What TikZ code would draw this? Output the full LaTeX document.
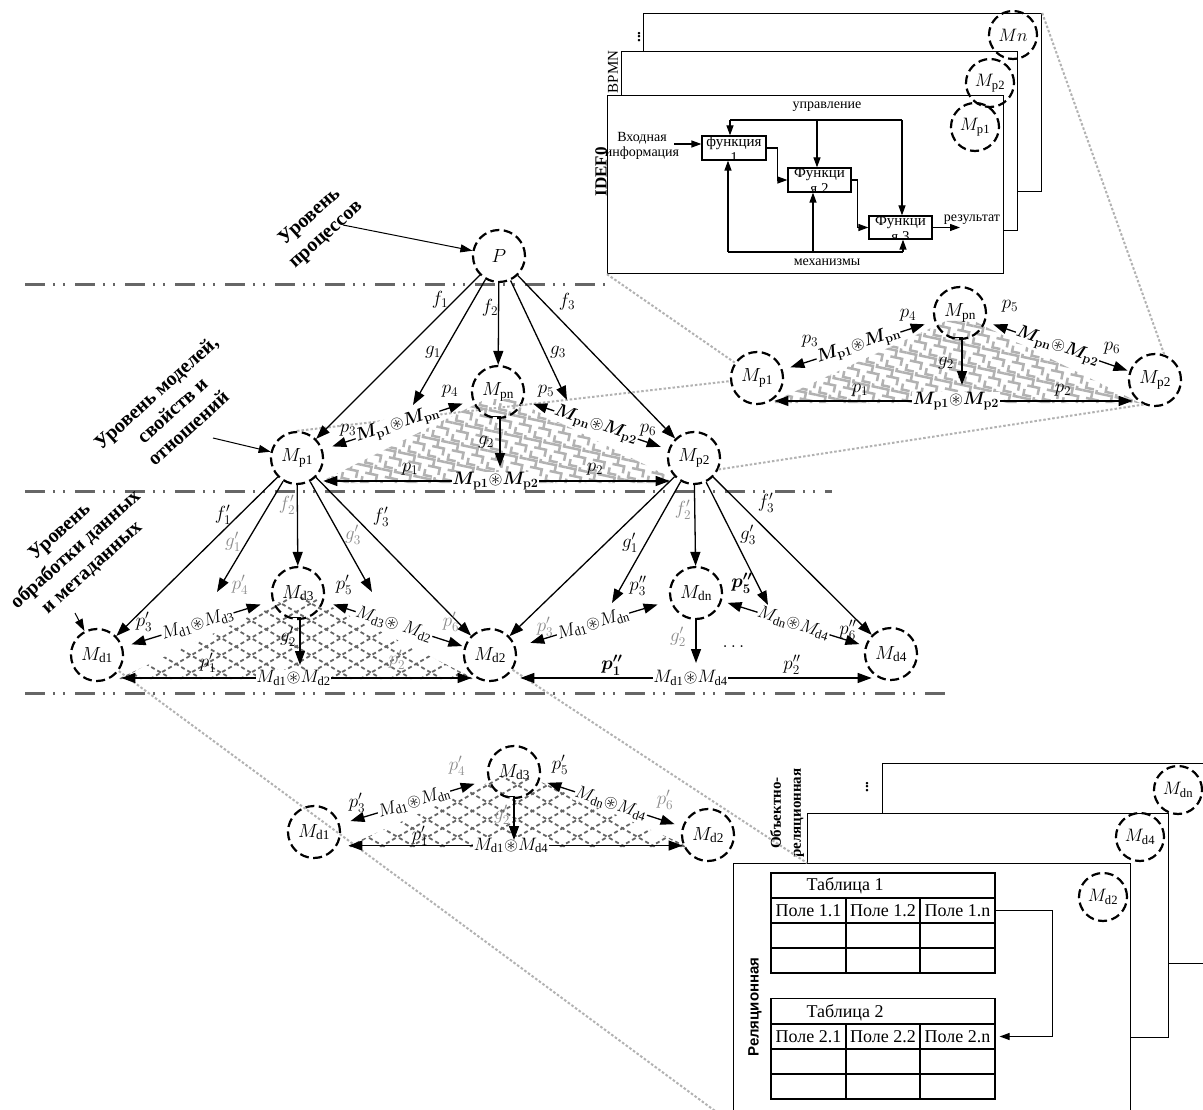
\RequirePackage{fix-cm}
\documentclass[tikz,border=0pt]{standalone}
\usepackage{amsmath,amssymb}
\usepackage{fontspec}
\setmainfont{Liberation Serif}
\newfontfamily\sansbold{Liberation Sans}
\usetikzlibrary{arrows.meta,calc}

\newcommand{\cast}{\mathord{\circledast}}
\tikzset{
  mnode/.style={circle, draw, dash pattern=on 9pt off 4.5pt, line width=2.2pt, minimum size=52pt, inner sep=0pt, font=\fontsize{19}{21}\selectfont},
  snode/.style={mnode, minimum size=48pt, font=\fontsize{18}{20}\selectfont},
  arr/.style={-{Triangle[length=14pt,width=10pt]}, line width=1.3pt},
  darr/.style={{Triangle[length=14pt,width=10pt]}-{Triangle[length=14pt,width=10pt]}, line width=1.3pt},
  tarr/.style={-{Triangle[length=12pt,width=8pt]}, line width=1pt},
  sarr/.style={-{Triangle[length=10pt,width=7pt]}, line width=1.2pt},
  lbl/.style={font=\fontsize{19}{21}\selectfont, inner sep=0pt},
  blbl/.style={font=\fontsize{19}{21}\selectfont\boldmath, inner sep=0pt},
  flbl/.style={lbl, text=black!45},
  brel/.style={font=\fontsize{18}{20}\selectfont\boldmath, fill=white, inner sep=0.5pt, sloped},
  rel/.style={font=\fontsize{18}{20}\selectfont, fill=white, inner sep=0.5pt, sloped},
  levelline/.style={draw=black!60, line width=3pt, dash pattern=on 20pt off 8pt on 2pt off 8pt on 2pt off 10pt},
  proj/.style={draw=black!30, line width=2pt, dash pattern=on 2.5pt off 2pt},
  fretline/.style={draw=black!30, line width=2.5pt},
  dgrid/.style={draw=black!60, line width=1.8pt, dash pattern=on 4pt off 3pt},
  small/.style={font=\fontsize{14}{15}\selectfont, inner sep=0pt},
  fsmall/.style={font=\fontsize{15}{16}\selectfont, inner sep=0pt},
  level/.style={font=\fontsize{20}{24}\selectfont\bfseries, align=center, rotate=42, inner sep=0pt},
  boxw/.style={draw, line width=1.2pt, fill=white, inner sep=0pt},
  fbox/.style={draw, line width=1.2pt, fill=white, inner sep=0pt},
  cell/.style={draw, line width=1.2pt, minimum height=25pt, inner sep=0pt, font=\fontsize{18}{20}\selectfont},
}

\newcommand{\fretfield}[4]{%
  \foreach \ii in {0,...,#3}{\foreach \jj in {0,...,#4}{%
    \draw[fretline] ({#1+\ii*20},{#2+\jj*20}) ++(0,3) -- ++(10,0) -- ++(0,7) -- ++(-5,0)
      ({#1+\ii*20},{#2+\jj*20}) ++(10,10) -- ++(7,0) -- ++(0,7)
      ({#1+\ii*20},{#2+\jj*20}) ++(14,0) -- ++(0,3) -- ++(6,0)
      ({#1+\ii*20},{#2+\jj*20}) ++(3,14) -- ++(0,6) -- ++(8,0);
  }}%
}

\begin{document}
\begin{tikzpicture}[x=1pt,y=-1pt]
\useasboundingbox (0,0) rectangle (1203,1110);
\fill[white] (0,0) rectangle (1203,1110);

% ---------- level lines
\coordinate (L1a) at (25,285); \coordinate (L1b) at (608,285);
\coordinate (L2a) at (25,491); \coordinate (L2b) at (832,491);
\coordinate (L3a) at (25,693); \coordinate (L3b) at (950,693);
\draw[levelline] (L1a) -- (L1b);
\draw[levelline] (L2a) -- (L2b);
\draw[levelline] (L3a) -- (L3b);

% ---------- fret fills
\begin{scope}
  \clip (318,483) -- (486,399) -- (512,399) -- (682,483) -- cycle;
  \begin{scope}[rotate around={-12:(500,440)}]
    \fretfield{290}{350}{21}{9}
  \end{scope}
\end{scope}
\begin{scope}
  \clip (770,403) -- (946,321) -- (974,321) -- (1140,403) -- cycle;
  \begin{scope}[rotate around={-12:(955,365)}]
    \fretfield{745}{280}{21}{9}
  \end{scope}
\end{scope}

% ---------- dashed diamond grids
\begin{scope}
  \clip (118,679) -- (290,597) -- (312,597) -- (475,679) -- cycle;
  \foreach \k in {0,...,22}{
    \draw[dgrid] ({-60+\k*30},597) -- ++(142,82);
    \draw[dgrid] ({-60+\k*30},679) -- ++(142,-82);
  }
\end{scope}
\begin{scope}
  \clip (345,847) -- (505,775) -- (525,775) -- (690,847) -- cycle;
  \foreach \k in {0,...,22}{
    \draw[dgrid] ({200+\k*30},775) -- ++(125,72);
    \draw[dgrid] ({200+\k*30},847) -- ++(125,-72);
  }
\end{scope}

% ---------- top-right stacked boxes
\node[boxw, minimum width=398pt, minimum height=178pt, anchor=north west] (bxN) at (643,13) {};
\node[boxw, minimum width=396pt, minimum height=179pt, anchor=north west] (bxB) at (621,51) {};
\node[boxw, minimum width=396pt, minimum height=178pt, anchor=north west] (bxI) at (607,95) {};
\node[font=\fontsize{15}{16}\selectfont\bfseries, rotate=90, inner sep=0pt] (tdots) at (639,37) {...};
\node[font=\fontsize{15}{16}\selectfont, rotate=90, inner sep=0pt] (tbpmn) at (613,72) {BPMN};
\node[font=\fontsize{17}{18}\selectfont\bfseries, rotate=90, inner sep=0pt] (tidef) at (601,172) {IDEF0};
\node[snode] (Mn) at (1013,35) {$Mn$};
\node[snode] (Mp2t) at (990,83) {$M_{\mathrm{p2}}$};
\node[snode] (Mp1t) at (975,127) {$M_{\mathrm{p1}}$};

% IDEF0 content
\node[fbox, minimum width=64pt, minimum height=24pt] (F1) at (734,148) {};
\node[fbox, minimum width=63pt, minimum height=24pt] (F2) at (819.5,180) {};
\node[fbox, minimum width=63pt, minimum height=23pt] (F3) at (900.5,227.5) {};
\begin{scope}
  \clip (F1.south west) rectangle (F1.north east);
  \node[fsmall, align=center, anchor=north] (F1t) at (F1.north) {функция\\1};
\end{scope}
\begin{scope}
  \clip (F2.south west) rectangle (F2.north east);
  \node[fsmall, align=center, anchor=north] (F2t) at (F2.north) {Функци\\я 2};
\end{scope}
\begin{scope}
  \clip (F3.south west) rectangle (F3.north east);
  \node[fsmall, align=center, anchor=north] (F3t) at (F3.north) {Функци\\я 3};
\end{scope}
\node[small, align=center] (inp) at (642,146) {Входная\\информация};
\coordinate (inS) at (674,144);
\draw[sarr] (inS) -- (inS -| F1.west);
\coordinate (cL) at (730,120); \coordinate (cM) at (817,120); \coordinate (cR) at (902,120);
\draw[line width=1.2pt] (cL) -- (cR);
\draw[sarr] (cL) -- (cL |- F1.north);
\draw[sarr] (cM) -- (cM |- F2.north);
\draw[sarr] (cR) -- (cR |- F3.north);
\node[small] (tctl) at (827,107) {управление};
\coordinate (mL) at (728,252); \coordinate (mM) at (813,252); \coordinate (mR) at (903,252);
\draw[line width=1.2pt] (mL) -- (mR);
\draw[sarr] (mL) -- (mL |- F1.south);
\draw[sarr] (mM) -- (mM |- F2.south);
\draw[sarr] (mR) -- (mR |- F3.south);
\node[small] (tmech) at (827,262) {механизмы};
\draw[sarr] (F1.east) -- ++(11,0) |- (F2.west);
\draw[sarr] (F2.east) -- ++(6,0) |- (F3.west);
\coordinate (outE) at (960,228);
\draw[sarr] (F3.east) -- (F3.east -| outE);
\node[small] (tres) at (972,220) {результат};

% ---------- bottom-right stacked boxes
\node[boxw, minimum width=335pt, minimum height=200pt, anchor=north west] (bxD) at (882,763) {};
\node[boxw, minimum width=361pt, minimum height=224pt, anchor=north west] (bxOR) at (807,813) {};
\node[boxw, minimum width=397pt, minimum height=260pt, anchor=north west] (bxRel) at (733,863) {};
\node[font=\fontsize{15}{16}\selectfont\bfseries, rotate=90, inner sep=0pt] (bdots) at (867,787) {...};
\node[font=\fontsize{15}{20}\selectfont\bfseries, rotate=90, align=center, inner sep=0pt] (tor) at (787,813) {Объектно-\\реляционная};
\node[font=\sansbold\bfseries\fontsize{15}{17}\selectfont, rotate=90, inner sep=0pt] (trel) at (755,1007) {Реляционная};
\node[snode] (Mdnb) at (1178,790) {$M_{\mathrm{dn}}$};
\node[snode] (Md4bb) at (1140,837) {$M_{\mathrm{d4}}$};
\node[snode] (Md2bb) at (1103,897) {$M_{\mathrm{d2}}$};

% tables
\node[cell, minimum width=224pt] (t1h) at (883,885.5) {};
\node[font=\fontsize{18}{20}\selectfont, inner sep=0pt] (t1ht) at (845,886) {Таблица 1};
\node[cell, minimum width=75pt] (c11) at (808.5,910.5) {Поле 1.1};
\node[cell, minimum width=74pt] (c12) at (883,910.5) {Поле 1.2};
\node[cell, minimum width=75pt] (c13) at (957.5,910.5) {Поле 1.n};
\node[cell, minimum width=75pt] (c14) at (808.5,935.5) {};
\node[cell, minimum width=74pt] (c15) at (883,935.5) {};
\node[cell, minimum width=75pt] (c16) at (957.5,935.5) {};
\node[cell, minimum width=75pt] (c17) at (808.5,960.5) {};
\node[cell, minimum width=74pt] (c18) at (883,960.5) {};
\node[cell, minimum width=75pt] (c19) at (957.5,960.5) {};
\node[cell, minimum width=224pt] (t2h) at (883,1011) {};
\node[font=\fontsize{18}{20}\selectfont, inner sep=0pt] (t2ht) at (845,1013) {Таблица 2};
\node[cell, minimum width=75pt] (c21) at (808.5,1036.5) {Поле 2.1};
\node[cell, minimum width=74pt] (c22) at (883,1036.5) {Поле 2.2};
\node[cell, minimum width=75pt] (c23) at (957.5,1036.5) {Поле 2.n};
\node[cell, minimum width=75pt] (c24) at (808.5,1061.5) {};
\node[cell, minimum width=74pt] (c25) at (883,1061.5) {};
\node[cell, minimum width=75pt] (c26) at (957.5,1061.5) {};
\node[cell, minimum width=75pt] (c27) at (808.5,1086.5) {};
\node[cell, minimum width=74pt] (c28) at (883,1086.5) {};
\node[cell, minimum width=75pt] (c29) at (957.5,1086.5) {};
\draw[sarr, shorten >=4pt] (c13.east) -- ++(57,0) |- (c23.east);

% ---------- main nodes
\node[mnode] (P) at (499,256) {$P$};
\node[mnode] (Mp1) at (297,458) {$M_{\mathrm{p1}}$};
\node[mnode] (Mpn) at (498,392) {$M_{\mathrm{pn}}$};
\node[mnode] (Mp2) at (694,458) {$M_{\mathrm{p2}}$};
\node[mnode] (Md1) at (97,655) {$M_{\mathrm{d1}}$};
\node[mnode] (Md3) at (298,593) {$M_{\mathrm{d3}}$};
\node[mnode] (Md2) at (490,655) {$M_{\mathrm{d2}}$};
\node[mnode] (Mdn) at (696,593) {$M_{\mathrm{dn}}$};
\node[mnode] (Md4) at (891,654) {$M_{\mathrm{d4}}$};
\node[mnode] (Mp1r) at (757,378) {$M_{\mathrm{p1}}$};
\node[mnode] (Mpnr) at (960,313) {$M_{\mathrm{pn}}$};
\node[mnode] (Mp2r) at (1155,380) {$M_{\mathrm{p2}}$};
\node[mnode] (Md1b) at (314,832) {$M_{\mathrm{d1}}$};
\node[mnode] (Md3b) at (514,772) {$M_{\mathrm{d3}}$};
\node[mnode] (Md2b) at (708,835) {$M_{\mathrm{d2}}$};

% ---------- projection lines
\draw[proj] (bxI.south west) -- (Mp1r);
\draw[proj] (Mp1.north) -- (Mp1r);
\draw[proj] (Mp2.-25) -- (Mp2r.-115);
\draw[proj] (bxN.north east) -- (Mp2r.70);
\draw[proj] (Md1) -- (bxRel.south west);
\draw[proj] (Md2) -- (bxOR.south west |- bxRel.north);

% ---------- level labels
\node[level] (lvP) at (318,226) {Уровень\\процессов};
\node[level] (lvM) at (172,410) {Уровень моделей,\\свойств и\\отношений};
\node[level] (lvD) at (76,550) {Уровень\\обработки данных\\и метаданных};
\coordinate (aP) at (343,225); \draw[tarr] (aP) -- (P);
\coordinate (aM) at (213,438); \draw[tarr] (aM) -- (Mp1);
\coordinate (aD) at (75,613); \draw[tarr] (aD) -- (Md1);

% ---------- process level arrows
\coordinate (g1m) at (413,405);
\coordinate (g3m) at (567,400);
\draw[arr] (P) -- (Mp1);
\draw[arr] (P) -- (g1m);
\draw[arr] (P) -- (Mpn);
\draw[arr] (P) -- (g3m);
\draw[arr] (P) -- (Mp2);
\draw[darr, shorten <=10pt, shorten >=10pt] (Mp1) -- node[brel] (r1) {$M_{\mathbf{p1}}\cast M_{\mathbf{pn}}$} (Mpn);
\draw[darr, shorten <=10pt, shorten >=8pt] (Mpn) -- node[brel] (r2) {$M_{\mathbf{pn}}\cast M_{\mathbf{p2}}$} (Mp2);
\draw[darr, shorten <=12pt, shorten >=10pt] (Mp1.-58) -- node[brel] (r3) {$M_{\mathbf{p1}}\cast M_{\mathbf{p2}}$} (Mp1.-58 -| Mp2.-122);
\coordinate (g2m) at (500,467);
\draw[arr] (Mpn.-115) -| (g2m);
\node[lbl] (lf1) at (440,300) {$f_1$};
\node[lbl] (lf2) at (490,308) {$f_2$};
\node[lbl] (lf3) at (567,302) {$f_3$};
\node[lbl] (lg1) at (433,352) {$g_1$};
\node[lbl] (lg3) at (558,352) {$g_3$};
\node[lbl] (lp3) at (348,430) {$p_3$};
\node[lbl] (lp4) at (450,391) {$p_4$};
\node[lbl] (lp5) at (546,391) {$p_5$};
\node[lbl] (lp6) at (648,430) {$p_6$};
\node[lbl] (lp1) at (410,469) {$p_1$};
\node[lbl] (lp2) at (595,469) {$p_2$};
\node[lbl] (lg2) at (486,442) {$g_2$};

% ---------- data level arrows (left)
\coordinate (g1d) at (217,592); \coordinate (g3d) at (372,592);
\draw[arr] (Mp1) -- (Md1);
\draw[arr] (Mp1) -- (g1d);
\draw[arr] (Mp1) -- (Md3);
\draw[arr] (Mp1) -- (g3d);
\draw[arr] (Mp1) -- (Md2);
\draw[darr, shorten <=9pt, shorten >=12pt] (Md1) -- node[rel] (r4) {$M_{\mathrm{d1}}\cast M_{\mathrm{d3}}$} (Md3);
\draw[darr, shorten <=10pt, shorten >=2pt] (Md3) -- node[rel] (r5) {$M_{\mathrm{d3}}\cast\; M_{\mathrm{d2}}$} (Md2);
\draw[darr, shorten <=10pt, shorten >=4pt] (Md1.-58) -- node[rel] (r6) {$M_{\mathrm{d1}}\cast M_{\mathrm{d2}}$} (Md1.-58 -| Md2.-122);
\coordinate (g2d) at (300,665);
\draw[arr] (Md3.-115) -| (g2d);
\node[lbl] (lf1d) at (223,515) {$f'_1$};
\node[flbl] (lg1d) at (233,542) {$g'_1$};
\node[flbl] (lf2d) at (287,505) {$f'_2$};
\node[flbl] (lg3d) at (353,535) {$g'_3$};
\node[lbl] (lf3d) at (381,517) {$f'_3$};
\node[lbl] (lp3d) at (144,622) {$p'_3$};
\node[flbl] (lp4d) at (240,585) {$p'_4$};
\node[lbl] (lp5d) at (344,585) {$p'_5$};
\node[flbl] (lp6d) at (451,622) {$p'_6$};
\node[lbl] (lp1d) at (208,663) {$p'_1$};
\node[flbl] (lp2d) at (397,660) {$p'_2$};
\node[lbl] (lg2d) at (288,637) {$g'_2$};

% ---------- data level arrows (right)
\coordinate (g1e) at (612,603); \coordinate (g3e) at (768,605);
\draw[arr] (Mp2) -- (Md2);
\draw[arr] (Mp2) -- (g1e);
\draw[arr] (Mp2) -- (Mdn);
\draw[arr] (Mp2) -- (g3e);
\draw[arr] (Mp2) -- (Md4);
\draw[darr, shorten <=15pt, shorten >=13pt] (Md2) -- node[rel] (r7) {$M_{\mathrm{d1}}\cast M_{\mathrm{dn}}$} (Mdn);
\draw[darr, shorten <=6pt, shorten >=6pt] (Mdn) -- node[rel] (r8) {$M_{\mathrm{dn}}\cast M_{\mathrm{d4}}$} (Md4);
\draw[darr, shorten <=16pt, shorten >=5pt] (Md2.-58) -- node[rel] (r9) {$M_{\mathrm{d1}}\cast M_{\mathrm{d4}}$} (Md2.-58 -| Md4.-122);
\coordinate (g2e) at (696,663);
\draw[arr] (Mdn) -- (g2e);
\node[lbl] (lg1e) at (630,543) {$g'_1$};
\node[flbl] (lf2e) at (683,510) {$f'_2$};
\node[lbl] (lg3e) at (748,535) {$g'_3$};
\node[lbl] (lf3e) at (766,503) {$f'_3$};
\node[lbl] (lp3e) at (638,586) {$p''_3$};
\node[flbl] (lp3f) at (545,627) {$p'_3$};
\node[blbl] (lp5e) at (742,583) {$p''_5$};
\node[lbl] (lp6e) at (848,630) {$p''_6$};
\node[blbl] (lp1e) at (612,665) {$p''_1$};
\node[lbl] (lp2e) at (792,665) {$p''_2$};
\node[flbl] (lg2e) at (678,637) {$g'_2$};
\node[lbl] (ldots) at (735,647) {$\dots$};

% ---------- right small triangle
\draw[darr, shorten <=8pt, shorten >=10pt] (Mp1r) -- node[brel] (r10) {$M_{\mathbf{p1}}\cast M_{\mathbf{pn}}$} (Mpnr);
\draw[darr, shorten <=8pt, shorten >=2pt] (Mpnr) -- node[brel] (r11) {$M_{\mathbf{pn}}\cast M_{\mathbf{p2}}$} (Mp2r);
\draw[darr, shorten <=3pt, shorten >=8pt] (Mp1r.-58) -- node[brel] (r12) {$M_{\mathbf{p1}}\cast M_{\mathbf{p2}}$} (Mp1r.-58 -| Mp2r.-122);
\coordinate (g2r) at (962,385);
\draw[arr] (Mpnr.-115) -| (g2r);
\node[lbl] (lp3r) at (810,341) {$p_3$};
\node[lbl] (lp4r) at (908,315) {$p_4$};
\node[lbl] (lp5r) at (1010,306) {$p_5$};
\node[lbl] (lp6r) at (1112,348) {$p_6$};
\node[lbl] (lp1r) at (860,390) {$p_1$};
\node[lbl] (lp2r) at (1063,390) {$p_2$};
\node[lbl] (lg2r) at (946,363) {$g_2$};

% ---------- bottom small triangle
\draw[darr, shorten <=11pt, shorten >=14pt] (Md1b) -- node[rel] (r13) {$M_{\mathrm{d1}}\cast M_{\mathrm{dn}}$} (Md3b);
\draw[darr, shorten <=8pt, shorten >=8pt] (Md3b) -- node[rel] (r14) {$M_{\mathrm{dn}}\cast M_{\mathrm{d4}}$} (Md2b);
\draw[darr, shorten <=11pt, shorten >=2pt] (Md1b.-30) -- node[rel] (r15) {$M_{\mathrm{d1}}\cast M_{\mathrm{d4}}$} (Md1b.-30 -| Md2b.-150);
\coordinate (g2b) at (514,840);
\draw[arr] (Md3b.-115) -| (g2b);
\node[lbl] (lp3b) at (357,803) {$p'_3$};
\node[flbl] (lp4b) at (457,766) {$p'_4$};
\node[lbl] (lp5b) at (560,765) {$p'_5$};
\node[flbl] (lp6b) at (665,800) {$p'_6$};
\node[lbl] (lp1b) at (420,836) {$p'_1$};
\node[flbl] (lg2b) at (502,815) {$g'_2$};
\end{tikzpicture}
\end{document}
